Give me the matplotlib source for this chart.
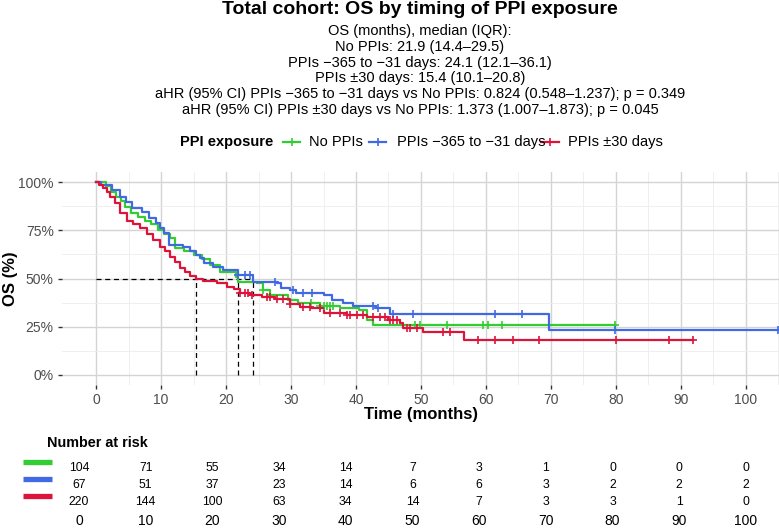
import matplotlib
matplotlib.use("Agg")
import matplotlib.pyplot as plt
from matplotlib.lines import Line2D

plt.rcParams["font.family"] = ["Liberation Sans", "DejaVu Sans"]

# ---- data ----
groups = ["No PPIs", "PPIs \u2212365 to \u221231 days", "PPIs \u00b130 days"]
colors = ["#32CD32", "#4169E1", "#DC143C"]

green_t = [0, 1.5, 2.3, 3.0, 3.8, 4.5, 5.3, 6.5, 7.5, 8.5, 9.5, 10.5, 11.3, 12.2, 13.5,
           15.0, 16.3, 17.5, 19.0, 21.5, 21.9, 24.7, 25.7, 26.8, 29.5, 31.0, 34.5, 37.5,
           40.5, 41.7, 42.6]
green_s = [1.0, 0.98, 0.95, 0.92, 0.90, 0.87, 0.84, 0.82, 0.80, 0.78, 0.75, 0.73, 0.71,
           0.66, 0.64, 0.62, 0.60, 0.57, 0.535, 0.51, 0.483, 0.475, 0.44, 0.415, 0.39,
           0.375, 0.36, 0.345, 0.335, 0.285, 0.26]
green_end = 79.8
green_cens = [25.7, 26.8, 33.0, 34.5, 35.0, 35.5, 36.0, 36.5, 49.1, 49.8, 54.0, 59.5,
              60.3, 62.5, 79.8]

blue_t = [0, 0.8, 2.5, 3.6, 4.6, 5.5, 7.0, 8.2, 9.2, 9.8, 10.5, 11.2, 13.3, 14.4, 15.3,
          16.0, 16.6, 18.0, 19.5, 21.8, 24.1, 27.8, 28.5, 29.8, 30.8, 35.0, 36.3, 38.0,
          39.5, 43.0, 45.2, 69.7]
blue_s = [1.0, 0.985, 0.96, 0.925, 0.895, 0.865, 0.845, 0.815, 0.79, 0.76, 0.735, 0.675,
          0.665, 0.64, 0.62, 0.605, 0.58, 0.56, 0.545, 0.52, 0.48, 0.475, 0.45, 0.44,
          0.425, 0.415, 0.39, 0.375, 0.36, 0.345, 0.318, 0.233]
blue_end = 105.0
blue_cens = [21.8, 22.9, 23.7, 27.5, 30.3, 31.8, 33.2, 42.6, 43.4, 45.7, 48.8, 61.4,
             65.5, 79.9, 105.0]

red_t = [0, 0.5, 1.0, 1.6, 2.2, 2.9, 3.7, 4.7, 5.7, 6.8, 7.8, 8.8, 9.8, 10.6, 11.4, 12.2,
         12.9, 13.7, 14.5, 15.4, 16.5, 18.6, 20.1, 21.2, 22.1, 23.7, 25.5, 27.5, 29.8,
         31.4, 33.0, 35.0, 38.6, 41.7, 45.0, 46.8, 47.2, 50.3, 56.6]
red_s = [1.0, 0.985, 0.97, 0.95, 0.92, 0.89, 0.84, 0.80, 0.78, 0.76, 0.73, 0.70, 0.665,
         0.64, 0.61, 0.585, 0.555, 0.535, 0.515, 0.495, 0.485, 0.475, 0.456, 0.445, 0.425,
         0.415, 0.405, 0.395, 0.37, 0.35, 0.345, 0.32, 0.31, 0.30, 0.285, 0.27, 0.245,
         0.223, 0.18]
red_end = 91.8
red_cens = [22.1, 22.9, 23.4, 24.0, 26.3, 26.8, 27.8, 28.8, 29.8, 31.8, 32.9, 34.5, 36.0,
            37.5, 38.6, 39.0, 40.2, 41.0, 42.6, 43.7, 44.5, 45.2, 45.7, 46.3, 47.8, 48.3,
            49.4, 53.4, 54.5, 58.8, 61.4, 64.2, 68.2, 80.0, 88.2, 91.8]

medians = [21.9, 24.1, 15.4]

risk_times = [0, 10, 20, 30, 40, 50, 60, 70, 80, 90, 100]
risk_green = [104, 71, 55, 34, 14, 7, 3, 1, 0, 0, 0]
risk_blue = [67, 51, 37, 23, 14, 6, 6, 3, 2, 2, 2]
risk_red = [220, 144, 100, 63, 34, 14, 7, 3, 3, 1, 0]

title = "Total cohort: OS by timing of PPI exposure"
subtitle = [
    "OS (months), median (IQR):",
    "No PPIs: 21.9 (14.4\u201329.5)",
    "PPIs \u2212365 to \u221231 days: 24.1 (12.1\u201336.1)",
    "PPIs \u00b130 days: 15.4 (10.1\u201320.8)",
    "aHR (95% CI) PPIs \u2212365 to \u221231 days vs No PPIs: 0.824 (0.548\u20131.237); p = 0.349",
    "aHR (95% CI) PPIs \u00b130 days vs No PPIs: 1.373 (1.007\u20131.873); p = 0.045",
]

W, H = 779, 528
fig = plt.figure(figsize=(W / 100, H / 100), dpi=100)


def fx(px):
    return px / W


def fy(py):
    return 1 - py / H


# ---- main KM panel ----
ax = fig.add_axes([fx(62), fy(384.6), fx(717), 212.2 / H])
ax.set_xlim(-5.25, 105.1)
ax.set_ylim(-0.05, 1.05)
ax.set_xticks(range(0, 101, 10))
ax.set_xticks(range(5, 106, 10), minor=True)
ax.set_yticks([0, 0.25, 0.5, 0.75, 1.0])
ax.set_yticks([0.125, 0.375, 0.625, 0.875], minor=True)
ax.set_yticklabels(["0%", "25%", "50%", "75%", "100%"])
ax.grid(which="major", color="#D4D4D4", lw=1.0)
ax.grid(which="minor", color="#EDEDED", lw=0.6)
ax.set_axisbelow(True)
for s in ax.spines.values():
    s.set_visible(False)
ax.tick_params(which="major", length=3, width=1.0, color="#333333", labelcolor="#4D4D4D",
               labelsize=10, pad=3)
ax.tick_params(which="minor", length=0)

curves = [(green_t, green_s, green_end, green_cens),
          (blue_t, blue_s, blue_end, blue_cens),
          (red_t, red_s, red_end, red_cens)]

for (t, s, end, cens), c in zip(curves, colors):
    xs = list(t) + [end]
    ys = list(s) + [s[-1]]
    ax.step(xs, ys, where="post", color=c, lw=1.6, zorder=3)
    cy = []
    for ct in cens:
        lvl = s[0]
        for ti, si in zip(t, s):
            if ti <= ct:
                lvl = si
        cy.append(lvl)
    ax.plot(cens, cy, ls="none", marker="+", ms=6, mew=1.2, color=c, zorder=4,
            clip_on=False)

# median reference lines
ax.plot([0, max(medians)], [0.5, 0.5], color="black", ls=(0, (4, 3)), lw=0.9, zorder=2)
for m in medians:
    ax.plot([m, m], [0, 0.5], color="black", ls=(0, (4, 3)), lw=0.9, zorder=2)

ax.set_xlabel("Time (months)", fontsize=12, fontweight="bold")
ax.xaxis.set_label_coords(0.5, (384.6 - 415) / 212.2)
ax.xaxis.label.set_va("center")
ax.set_ylabel("OS (%)", fontsize=12, fontweight="bold")
ax.yaxis.set_label_coords((10 - 62) / 717, 0.5)
ax.yaxis.label.set_va("center")

# ---- title, subtitle, legend ----
cx = fx(420)
fig.text(cx, fy(9), title, ha="center", va="center", fontsize=14, fontweight="bold")
for i, line in enumerate(subtitle):
    fig.text(cx, fy(31 + i * 15.8), line, ha="center", va="center", fontsize=10.5)

ly = fy(142)
fig.text(fx(180), ly, "PPI exposure", ha="left", va="center", fontsize=10.5,
         fontweight="bold")
key_pos = [(283, 300, 309), (369, 386, 397), (541, 559, 568)]
for (k0, k1, tx), c, g in zip(key_pos, colors, groups):
    fig.add_artist(Line2D([fx(k0), fx((k0 + k1) / 2), fx(k1)], [ly, ly, ly],
                          color=c, lw=1.6, marker="+", ms=6, mew=1.2, markevery=[1]))
    fig.text(fx(tx), ly, g, ha="left", va="center", fontsize=10.5)

# ---- risk table ----
axt = fig.add_axes([fx(62), fy(510.5), fx(717), 51 / H])
axt.set_xlim(-2.55, 104.95)
axt.set_ylim(3.5, 0.5)
for s in axt.spines.values():
    s.set_visible(False)
axt.set_yticks([])
axt.set_xticks(risk_times)
axt.tick_params(axis="x", length=0, labelsize=10, labelcolor="black", pad=2.5)
for row, (vals, c) in enumerate(zip([risk_green, risk_blue, risk_red], colors), start=1):
    for t, n in zip(risk_times, vals):
        axt.text(t, row, str(n), ha="center", va="center", fontsize=8.8)
    axt.plot([-8.4, -4.05], [row - 0.35, row - 0.35], color=c, lw=3.8,
             solid_capstyle="butt", clip_on=False)

fig.text(fx(47), fy(443), "Number at risk", ha="left", va="center", fontsize=10.4,
         fontweight="bold")

fig.savefig("out.png", dpi=100)
